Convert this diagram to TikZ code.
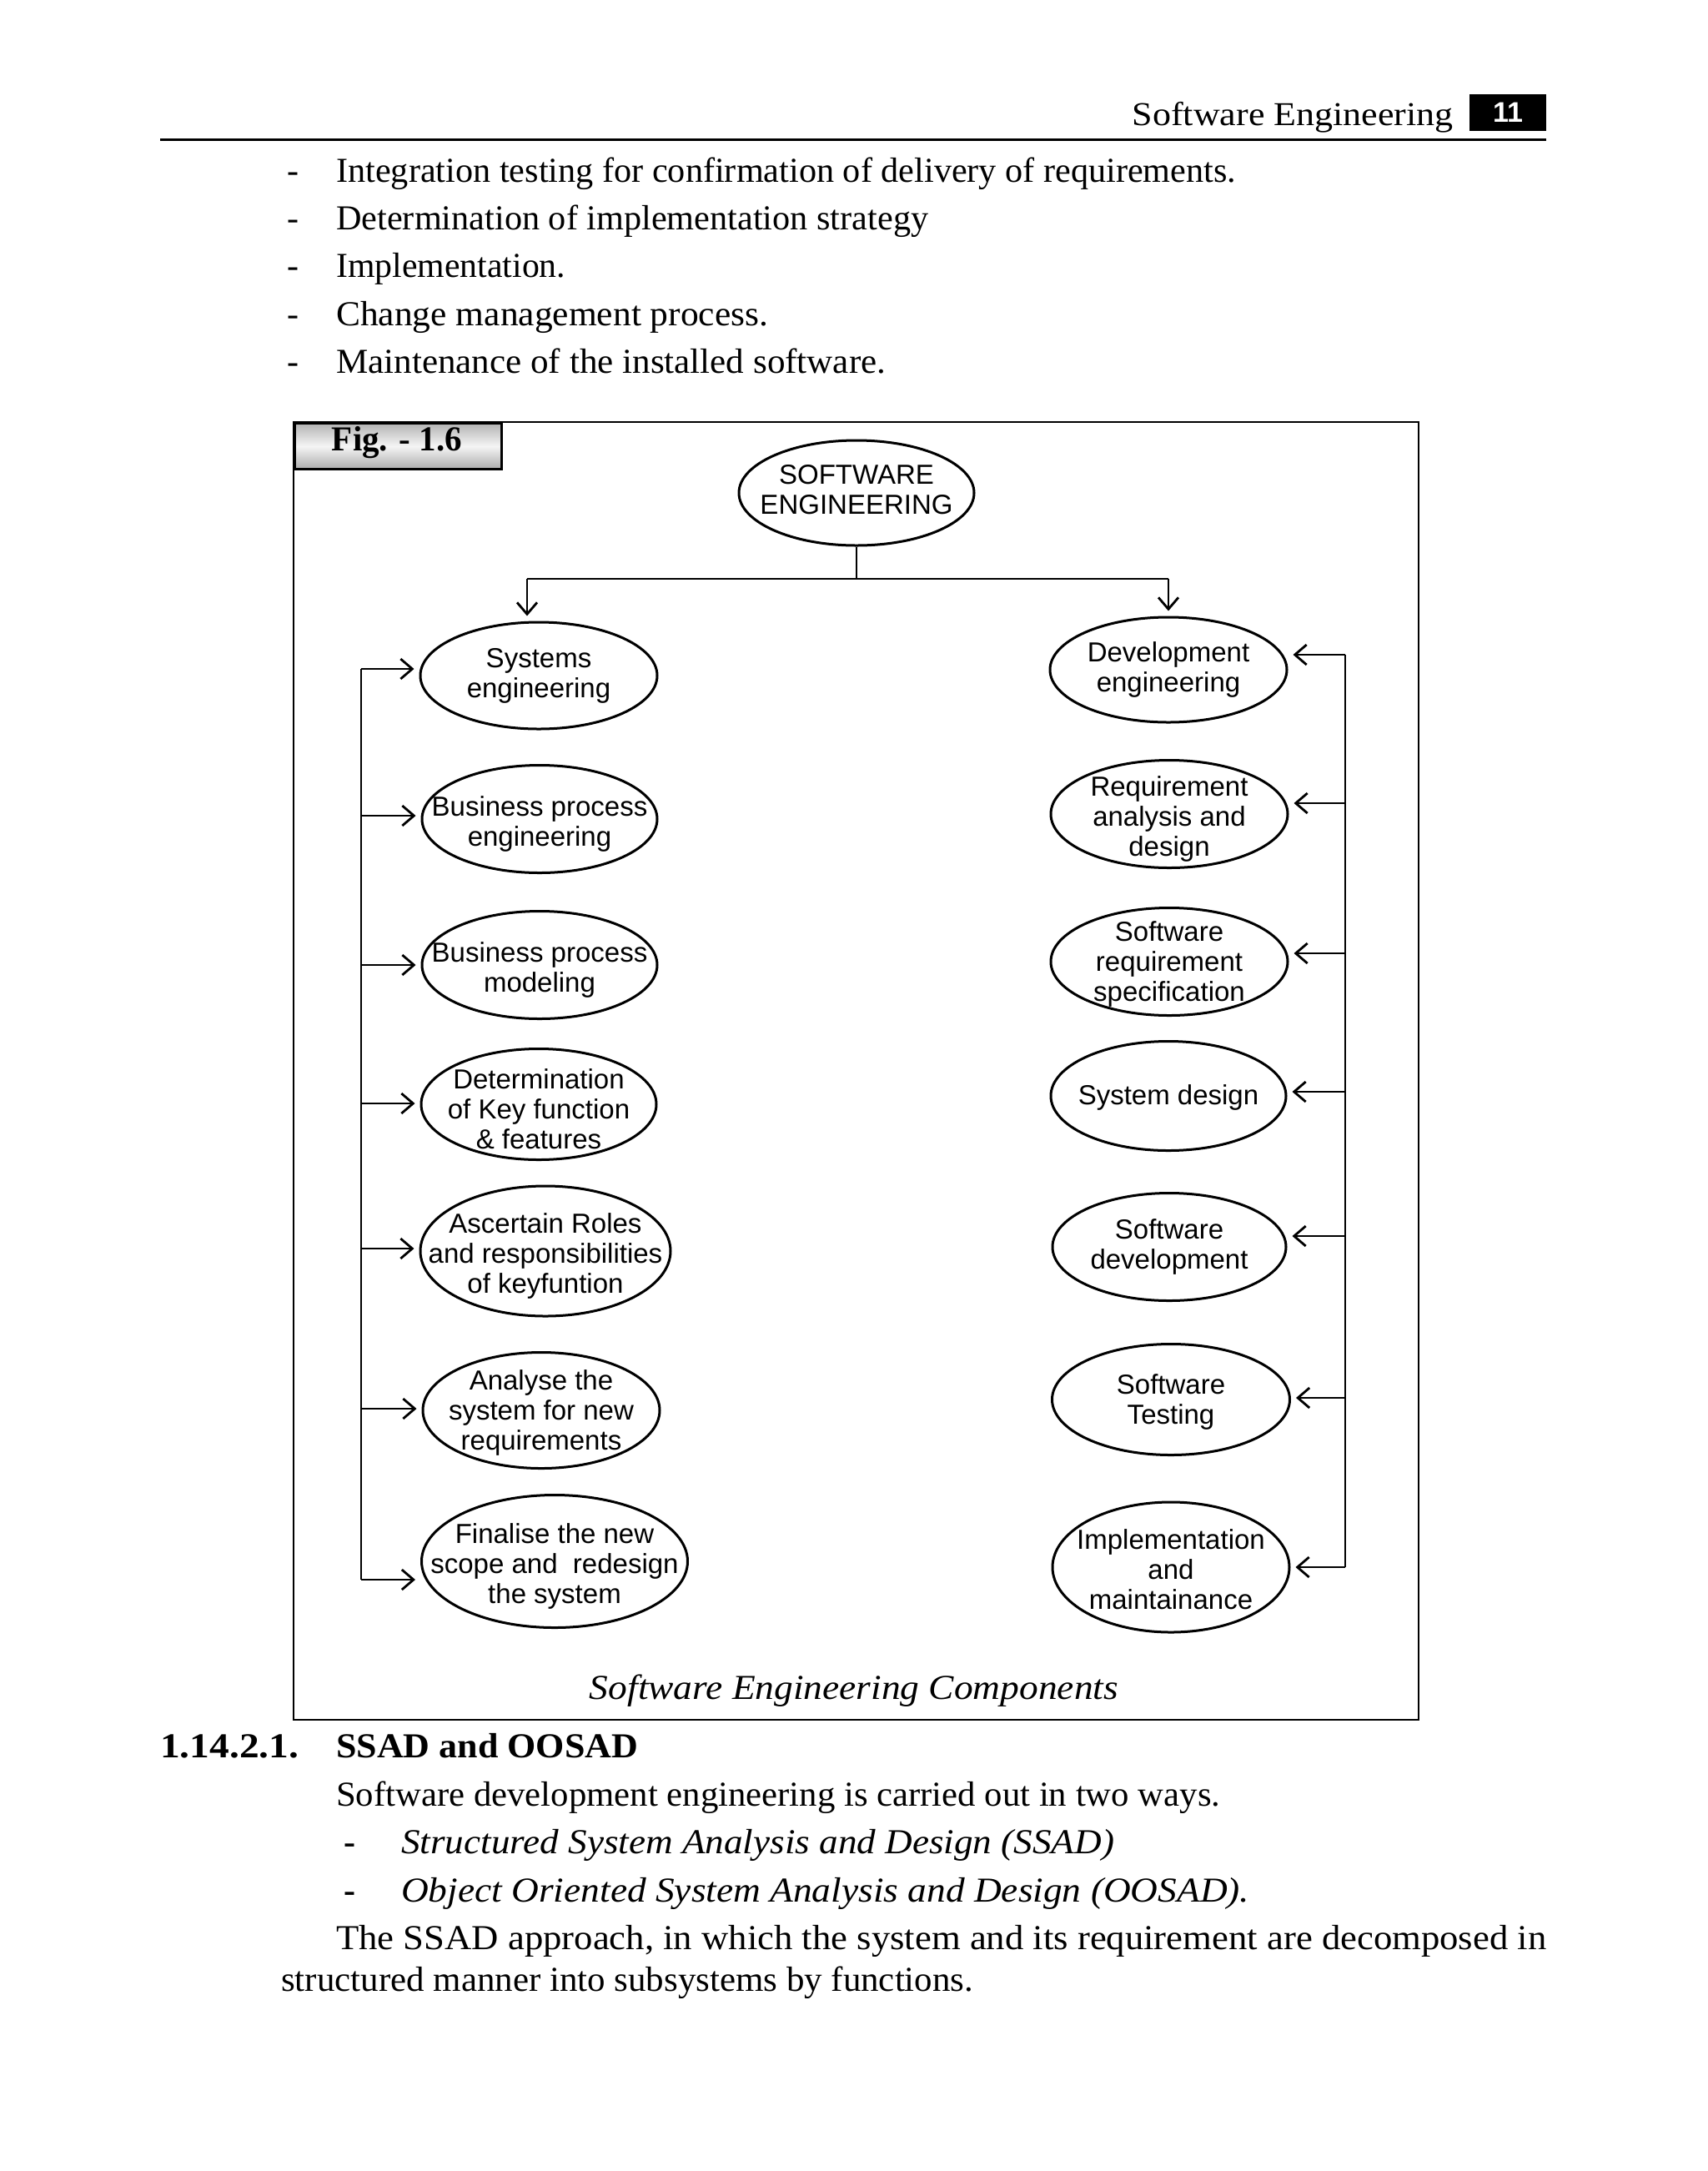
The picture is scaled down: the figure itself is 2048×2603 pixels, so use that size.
\documentclass[tikz,border=0pt]{standalone}
\usepackage{fontspec}
\usepackage{graphicx}
\setmainfont{Liberation Serif}
\setsansfont{Liberation Sans}
\usetikzlibrary{shapes.geometric,arrows.meta}
\newcommand\fitw[2]{\resizebox{#1pt}{\height}{#2}}
\begin{document}
\begin{tikzpicture}[x=1pt,y=-1pt,
  body/.style={anchor=base west, inner sep=0pt, font=\fontsize{42}{50}\selectfont},
  ell/.style={draw, ellipse, line width=3pt, inner sep=0pt},
  etxt/.style={align=center, inner sep=0pt, font=\sffamily\fontsize{33}{36}\selectfont},
  etxtd/.style={etxt, yshift=-6pt},
  arr/.style={line width=2.5pt, -{Straight Barb[length=14pt,width=24pt,line width=2.8pt]}, shorten >=6pt},
  wire/.style={line width=2.5pt}]
\useasboundingbox (0,0) rectangle (2048,2603);

% header
\node[anchor=base east, inner sep=0pt, font=\fontsize{40}{40}\selectfont] (hdr) at (1743,150) {\fitw{385}{Software Engineering}};
\node[fill=black, text=white, inner sep=0pt, minimum width=92pt, minimum height=44pt, font=\sffamily\bfseries\fontsize{34}{34}\selectfont] (pg) at (1808,135) {11};
\draw[line width=3pt] (192,167) -- (1854,167);

% top bullets
\node[body] (d1) at (344,218) {-};
\node[body] (b1) at (403,218) {\fitw{1079}{Integration testing for confirmation of delivery of requirements.}};
\node[body] (d2) at (344,275) {-};
\node[body] (b2) at (403,275) {\fitw{710}{Determination of implementation strategy}};
\node[body] (d3) at (344,332) {-};
\node[body] (b3) at (403,332) {\fitw{275}{Implementation.}};
\node[body] (d4) at (344,390) {-};
\node[body] (b4) at (403,390) {\fitw{518}{Change management process.}};
\node[body] (d5) at (344,447) {-};
\node[body] (b5) at (403,447) {\fitw{659}{Maintenance of the installed software.}};

% frame
\draw[line width=2.5pt] (352,506) rectangle (1701,2062);
\node[draw, line width=3pt, anchor=north west, minimum width=248pt, minimum height=55pt, inner sep=0pt,
  top color=gray!60, bottom color=gray!65, middle color=gray!8] (fig) at (352,506) {};
\node[anchor=base, inner sep=0pt, font=\bfseries\fontsize{42}{42}\selectfont] (figt) at (476,540) {\fitw{156}{Fig. - 1.6}};

% top ellipse
\node[ell, minimum width=282pt, minimum height=126pt, label={[etxt, yshift=4pt]center:{SOFTWARE\\ENGINEERING}}] (top) at (1027,591) {};

% left ellipses
\node[ell, minimum width=284pt, minimum height=128pt, label={[etxt]center:{Systems\\engineering}}] (L1) at (646,810) {};
\node[ell, minimum width=282pt, minimum height=129pt, label={[etxtd]center:{Business process\\engineering}}] (L2) at (647,982) {};
\node[ell, minimum width=282pt, minimum height=129pt, label={[etxtd]center:{Business process\\modeling}}] (L3) at (647,1157) {};
\node[ell, minimum width=282pt, minimum height=133pt, label={[etxtd]center:{Determination\\of Key function\\\& features}}] (L4) at (646,1324) {};
\node[ell, minimum width=300pt, minimum height=156pt, label={[etxtd]center:{Ascertain Roles\\and responsibilities\\of keyfuntion}}] (L5) at (654,1500) {};
\node[ell, minimum width=284pt, minimum height=139pt, label={[etxt, yshift=-3pt]center:{Analyse the\\system for new\\requirements}}] (L6) at (649,1691) {};
\node[ell, minimum width=319pt, minimum height=159pt, label={[etxtd]center:{Finalise the new\\scope and\ \ redesign\\the system}}] (L7) at (665,1872) {};

% right ellipses
\node[ell, minimum width=284pt, minimum height=126pt, label={[etxt]center:{Development\\engineering}}] (R1) at (1401,803) {};
\node[ell, minimum width=284pt, minimum height=129pt, label={[etxtd]center:{Requirement\\analysis and\\design}}] (R2) at (1402,976) {};
\node[ell, minimum width=284pt, minimum height=129pt, label={[etxt, yshift=-3pt]center:{Software\\requirement\\specification}}] (R3) at (1402,1153) {};
\node[ell, minimum width=282pt, minimum height=131pt, label={[etxt, yshift=-2pt]center:{System design}}] (R4) at (1401,1314) {};
\node[ell, minimum width=280pt, minimum height=129pt, label={[etxt]center:{Software\\development}}] (R5) at (1402,1495) {};
\node[ell, minimum width=285pt, minimum height=133pt, label={[etxt, yshift=-3pt]center:{Software\\Testing}}] (R6) at (1404,1678) {};
\node[ell, minimum width=284pt, minimum height=156pt, label={[etxt, yshift=-3pt]center:{Implementation\\and\\maintainance}}] (R7) at (1404,1879) {};

% top connectors
\coordinate (jc) at (1027,694);
\coordinate (jL) at (632,694);
\coordinate (jR) at (1401,694);
\draw[wire] (top.south) -- (jc);
\draw[wire] (jL) -- (jR);
\draw[arr] (jL) -- (jL |- L1.north);
\draw[arr] (jR) -- (R1.north);

% left bus
\coordinate (l1) at (433,802);
\coordinate (l2) at (433,978);
\coordinate (l3) at (433,1157);
\coordinate (l4) at (433,1323);
\coordinate (l5) at (433,1497);
\coordinate (l6) at (433,1689);
\coordinate (l7) at (433,1894);
\draw[wire] (l1) -- (l7);
\draw[arr] (l1) -- (l1 -| L1.west);
\draw[arr] (l2) -- (l2 -| L2.west);
\draw[arr] (l3) -- (l3 -| L3.west);
\draw[arr] (l4) -- (l4 -| L4.west);
\draw[arr] (l5) -- (l5 -| L5.west);
\draw[arr] (l6) -- (l6 -| L6.west);
\draw[arr] (l7) -- (l7 -| L7.west);

% right bus
\coordinate (r1) at (1613,785);
\coordinate (r2) at (1613,963);
\coordinate (r3) at (1613,1143);
\coordinate (r4) at (1613,1309);
\coordinate (r5) at (1613,1482);
\coordinate (r6) at (1613,1676);
\coordinate (r7) at (1613,1879);
\draw[wire] (r1) -- (r7);
\draw[arr] (r1) -- (r1 -| R1.east);
\draw[arr] (r2) -- (r2 -| R2.east);
\draw[arr] (r3) -- (r3 -| R3.east);
\draw[arr] (r4) -- (r4 -| R4.east);
\draw[arr] (r5) -- (r5 -| R5.east);
\draw[arr] (r6) -- (r6 -| R6.east);
\draw[arr] (r7) -- (r7 -| R7.east);

% caption
\node[anchor=base, inner sep=0pt, font=\itshape\fontsize{42}{42}\selectfont] (cap) at (1024,2037) {\fitw{634}{Software Engineering Components}};

% bottom text
\node[body] (sn) at (192,2107) {\fitw{166}{\bfseries 1.14.2.1.}};
\node[body] (st) at (403,2107) {\fitw{362}{\bfseries SSAD and OOSAD}};
\node[body] (p1) at (403,2165) {\fitw{1060}{Software development engineering is carried out in two ways.}};
\node[body] (e1) at (412,2222) {\bfseries -};
\node[body] (i1) at (481,2222) {\fitw{855}{\itshape Structured System Analysis and Design (SSAD)}};
\node[body] (e2) at (412,2280) {\bfseries -};
\node[body] (i2) at (481,2280) {\fitw{1017}{\itshape Object Oriented System Analysis and Design (OOSAD).}};
\node[body] (p2) at (403,2337) {\fitw{1451}{The SSAD approach, in which the system and its requirement are decomposed in}};
\node[body] (p3) at (337,2387) {\fitw{830}{structured manner into subsystems by functions.}};
\end{tikzpicture}
\end{document}
